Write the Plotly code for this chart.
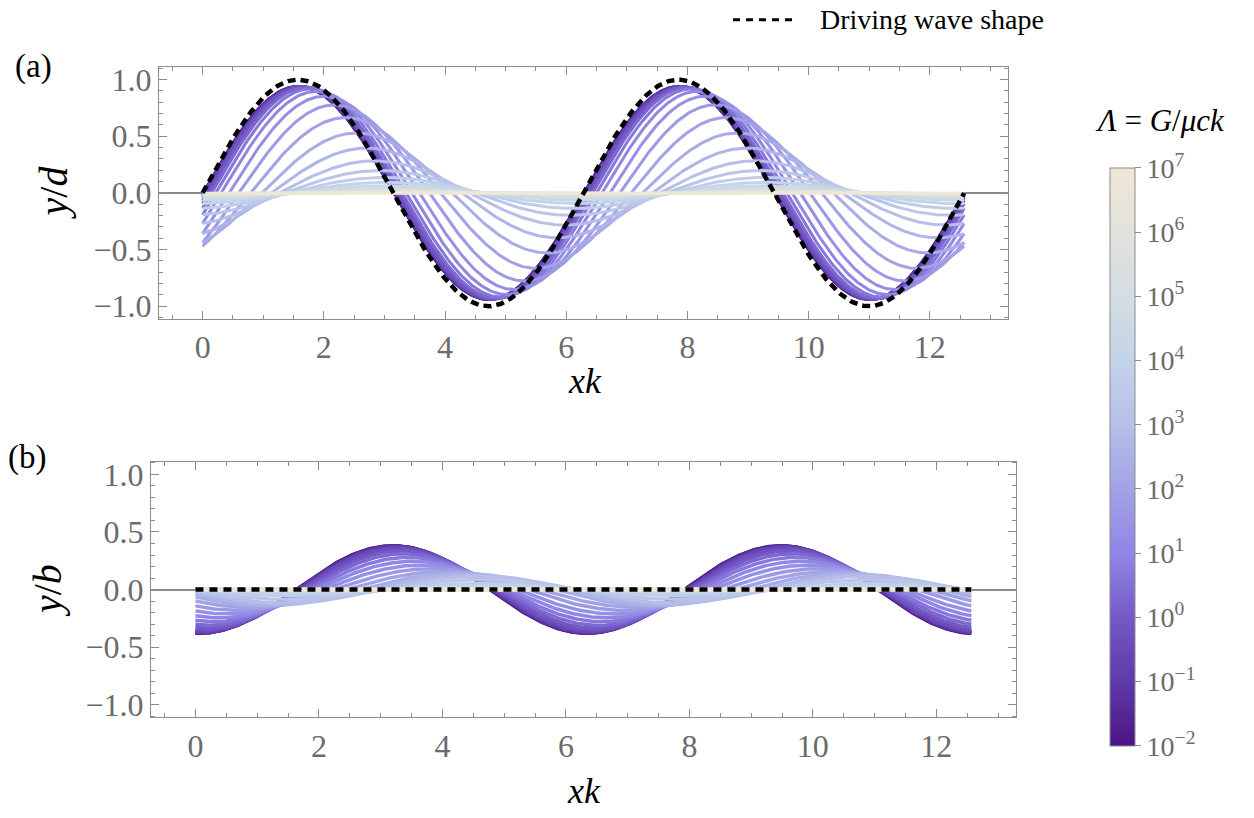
import numpy as np
import plotly.graph_objects as go
from plotly.colors import sample_colorscale

# ---- data ----
# log10(Lambda) of each plotted curve (1/3-decade steps)
lam_exp = [-2.0, -1.667, -1.333, -1.0, -0.667, -0.333, 0.0, 0.333, 0.667, 1.0,
           1.333, 1.667, 2.0, 2.333, 2.667, 3.0, 3.333, 3.667, 4.0, 4.333,
           4.667, 5.0, 5.333, 5.667, 6.0, 6.333, 6.667, 7.0]

# panel (a): y/d = sin_a * sin(xk) + cos_a * cos(xk)
sin_a = [0.9399, 0.9398, 0.9396, 0.9391, 0.9380, 0.9357, 0.9307, 0.9202, 0.8983, 0.8545,
         0.7734, 0.6420, 0.4700, 0.2982, 0.1672, 0.0855, 0.0418, 0.0198, 0.0093, 0.0044,
         0.0020, 0.0009, 0.0004, 0.0002, 0.0001, 0.0, 0.0, 0.0]
cos_a = [-0.0094, -0.0138, -0.0202, -0.0297, -0.0435, -0.0637, -0.0931, -0.1351, -0.1935, -0.2702,
         -0.3590, -0.4374, -0.4700, -0.4374, -0.3590, -0.2702, -0.1935, -0.1351, -0.0931, -0.0637,
         -0.0435, -0.0297, -0.0202, -0.0138, -0.0094, -0.0064, -0.0044, -0.0030]

# panel (b): y/b = sin_b * sin(xk) + cos_b * cos(xk)
sin_b = [-0.020, -0.024, -0.029, -0.035, -0.042, -0.052, -0.062, -0.072, -0.082, -0.092,
         -0.102, -0.112, -0.120, -0.126, -0.127, -0.115, -0.085, -0.052, -0.028, -0.014,
         -0.007, -0.003, -0.0015, -0.001, 0.0, 0.0, 0.0, 0.0]
cos_b = [-0.380, -0.379, -0.376, -0.372, -0.364, -0.350, -0.330, -0.302, -0.267, -0.228,
         -0.186, -0.142, -0.100, -0.064, -0.036, -0.017, -0.008, -0.004, -0.002, -0.001,
         0.0, 0.0, 0.0, 0.0, 0.0, 0.0, 0.0, 0.0]

# driving wave amplitude in each panel
drive_amp_a = 1.0
drive_amp_b = 0.0

cbar_exp = [-2, -1, 0, 1, 2, 3, 4, 5, 6, 7]
cbar_text = ["10<sup>\u22122</sup>", "10<sup>\u22121</sup>", "10<sup>0</sup>", "10<sup>1</sup>",
             "10<sup>2</sup>", "10<sup>3</sup>", "10<sup>4</sup>", "10<sup>5</sup>",
             "10<sup>6</sup>", "10<sup>7</sup>"]
y_ticks = [-1.0, -0.5, 0.0, 0.5, 1.0]
y_ticktext = ["\u22121.0", "\u22120.5", "0.0", "0.5", "1.0"]
x_ticks = [0, 2, 4, 6, 8, 10, 12]

# ---- style ----
W, H = 1254, 818
cscale = [[0.0, '#4a1486'], [0.1111, '#5f3aa8'], [0.2222, '#7459c6'], [0.3333, '#9086e6'],
          [0.4444, '#a2a2e6'], [0.5556, '#b5bfea'], [0.6667, '#c4d4e8'], [0.7778, '#d3dde2'],
          [0.8889, '#e2e2dc'], [1.0, '#efe7d6']]
SERIF = "Liberation Serif"
TICKGRAY = '#6b6b6b'
FRAME = '#8c8c8c'

xk = np.linspace(0, 4 * np.pi, 500)
fig = go.Figure()

cols = sample_colorscale(cscale, [(e + 2) / 9 for e in lam_exp])

for i, e in enumerate(lam_exp):
    ya = sin_a[i] * np.sin(xk) + cos_a[i] * np.cos(xk)
    fig.add_trace(go.Scatter(x=xk, y=ya, mode='lines', line=dict(color=cols[i], width=3),
                             xaxis='x', yaxis='y', showlegend=False, hoverinfo='skip'))
for i, e in enumerate(lam_exp):
    yb = sin_b[i] * np.sin(xk) + cos_b[i] * np.cos(xk)
    fig.add_trace(go.Scatter(x=xk, y=yb, mode='lines', line=dict(color=cols[i], width=3.5),
                             xaxis='x2', yaxis='y2', showlegend=False, hoverinfo='skip'))

fig.add_trace(go.Scatter(x=xk, y=drive_amp_a * np.sin(xk), mode='lines',
                         line=dict(color='black', width=4.5, dash='8px,5px'),
                         xaxis='x', yaxis='y', showlegend=False, hoverinfo='skip'))
fig.add_trace(go.Scatter(x=xk, y=drive_amp_b * np.sin(xk), mode='lines',
                         line=dict(color='black', width=4.5, dash='8px,6px'),
                         xaxis='x2', yaxis='y2', showlegend=False, hoverinfo='skip'))

# colorbar carrier
fig.add_trace(go.Scatter(x=[None], y=[None], mode='markers', showlegend=False,
                         marker=dict(color=[-2, 7], cmin=-2, cmax=7, colorscale=cscale, showscale=True,
                                     colorbar=dict(x=1110 / W, xanchor='left', y=1 - 458 / H, yanchor='middle',
                                                   thickness=25, lenmode='pixels', len=578,
                                                   outlinewidth=1, outlinecolor=FRAME,
                                                   tickvals=cbar_exp, ticktext=cbar_text,
                                                   ticks='outside', ticklen=6, tickcolor=FRAME,
                                                   tickfont=dict(family=SERIF, size=28, color=TICKGRAY),
                                                   xpad=0, ypad=0))))

def xaxis(domain, anchor):
    return dict(domain=domain, anchor=anchor, range=[-0.72, 13.29], tickvals=x_ticks,
                showline=True, linecolor=FRAME, linewidth=1.2, mirror='allticks',
                ticks='inside', ticklen=8, tickcolor=FRAME, showgrid=False, zeroline=False,
                tickfont=dict(family=SERIF, size=32, color=TICKGRAY),
                minor=dict(dtick=0.5, tick0=0, ticks='inside', ticklen=4, tickcolor=FRAME, showgrid=False))

def yaxis(domain, anchor):
    return dict(domain=domain, anchor=anchor, range=[-1.11, 1.11], tickvals=y_ticks, ticktext=y_ticktext,
                showline=True, linecolor=FRAME, linewidth=1.2, mirror='allticks',
                ticks='inside', ticklen=8, tickcolor=FRAME, showgrid=False,
                zeroline=True, zerolinecolor='#8a8a8a', zerolinewidth=1.5,
                tickfont=dict(family=SERIF, size=32, color=TICKGRAY),
                minor=dict(dtick=0.1, tick0=0, ticks='inside', ticklen=4, tickcolor=FRAME, showgrid=False))

fig.update_layout(
    width=W, height=H, margin=dict(l=0, r=0, t=0, b=0),
    paper_bgcolor='white', plot_bgcolor='white',
    xaxis=xaxis([159 / W, 1008 / W], 'y'),
    yaxis=yaxis([1 - 318 / H, 1 - 63 / H], 'x'),
    xaxis2=xaxis([151 / W, 1016 / W], 'y2'),
    yaxis2=yaxis([1 - 722 / H, 1 - 463 / H], 'x2'),
)

ann = []
def txt(x, y, s, size, angle=0, xanchor='center', color='black'):
    ann.append(dict(x=x / W, y=1 - y / H, xref='paper', yref='paper', text=s, showarrow=False,
                    textangle=angle, xanchor=xanchor, yanchor='middle',
                    font=dict(family=SERIF, size=size, color=color)))

txt(33, 62, "(a)", 33)
txt(27, 459, "(b)", 33)
txt(53, 190, "<i>y</i>/<i>d</i>", 40, angle=-90)
txt(47, 593, "<i>y</i>/<i>b</i>", 40, angle=-90)
txt(585, 381, "<i>xk</i>", 36)
txt(584, 797, "<i>xk</i>", 36)
txt(1160, 117, "<i>\u039b</i> = <i>G</i>/<i>\u03bcck</i>", 31)
txt(818, 15, "Driving wave shape", 28, xanchor='left')
fig.update_layout(annotations=ann)

fig.add_shape(type='line', xref='paper', yref='paper', x0=733 / W, x1=797 / W,
              y0=1 - 15 / H, y1=1 - 15 / H, line=dict(color='black', width=3, dash='7px,6px'))

fig.write_html("out.html")
